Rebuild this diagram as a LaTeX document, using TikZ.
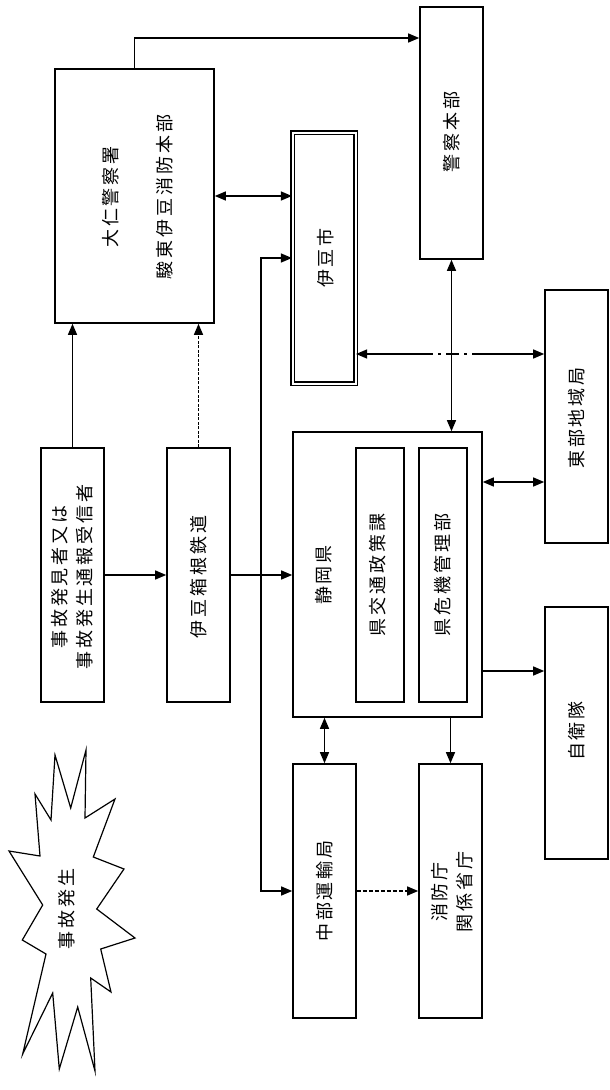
\documentclass[tikz,border=0pt]{standalone}
\usepackage{fontspec}
\newfontfamily\jp[LetterSpace=16]{Noto Sans CJK JP}
\usetikzlibrary{arrows.meta,calc}
\begin{document}
\begin{tikzpicture}[x=1pt,y=-1pt,
  box/.style={draw, line width=1.6pt, inner sep=0pt, fill=white},
  txt/.style={rotate=90, align=center, inner sep=0pt, font=\jp\fontsize{18}{25}\selectfont},
  conn/.style={line width=1.3pt},
  arr/.style={conn, -{Triangle[length=11pt,width=9pt]}},
  biarr/.style={conn, {Triangle[length=11pt,width=9pt]}-{Triangle[length=11pt,width=9pt]}},
  rarr/.style={conn, {Triangle[length=11pt,width=9pt]}-},
  dashline/.style={dash pattern=on 4pt off 2pt},
  dashdotline/.style={conn, dash pattern=on 13pt off 5pt on 3pt off 5pt}
]
\useasboundingbox (0,0) rectangle (610,1090);

% boxes
\node[box, minimum width=159pt, minimum height=254pt] (dai) at (134.5,196) {};
\node[box, minimum width=63pt, minimum height=252pt] (kei) at (451.5,133) {};
\node[draw, line width=1.1pt, double, double distance=2pt, inner sep=0pt, minimum width=63pt, minimum height=251pt] (izu) at (324,258) {};
\node[box, minimum width=63pt, minimum height=253pt] (tobu) at (576.5,416.5) {};
\node[box, minimum width=63pt, minimum height=254pt] (hakken) at (72.5,575) {};
\node[box, minimum width=63pt, minimum height=254pt] (tetsu) at (198.5,575) {};
\node[box, minimum width=189pt, minimum height=285pt] (shizu) at (387.5,574.5) {};
\node[box, minimum width=48pt, minimum height=254pt] (kotsu) at (380,575) {};
\node[box, minimum width=48pt, minimum height=254pt] (kiki) at (443,575) {};
\node[box, minimum width=63pt, minimum height=252pt] (jiei) at (576.5,733) {};
\node[box, minimum width=63pt, minimum height=254pt] (chubu) at (324.5,891) {};
\node[box, minimum width=63pt, minimum height=254pt] (shobo) at (450.5,891) {};

% texts
\node[txt] (daiT) at (138,197) {大仁警察署\\[29pt]駿東伊豆消防本部};
\node[txt] (keiT) at (451.5,132) {警察本部};
\node[txt] (izuT) at (326,258) {伊豆市};
\node[txt] (tobuT) at (577,418) {東部地域局};
\node[txt] (hakkenT) at (72.5,577) {事故発見者又は\\事故発生通報受信者};
\node[txt] (tetsuT) at (199,577) {伊豆箱根鉄道};
\node[txt] (shizuT) at (324,575) {静岡県};
\node[txt] (kotsuT) at (378,575) {県交通政策課};
\node[txt] (kikiT) at (443,575) {県危機管理部};
\node[txt] (jieiT) at (577,731) {自衛隊};
\node[txt] (chubuT) at (325,891) {中部運輸局};
\node[txt] (shoboT) at (452,892) {消防庁\\関係省庁};

% star
\draw[line width=1.2pt, fill=white] (86,750) -- (70.7,808) -- (55,755) -- (51,820) -- (35,794) -- (40,856)
  -- (9,851) -- (42.7,905) -- (22.3,940) -- (46,954) -- (22.7,1054) -- (52.7,993) -- (59.3,1069)
  -- (77.7,1007) -- (95,1071) -- (90.7,978) -- (111,992) -- (100.7,949) -- (135,938) -- (96.7,909)
  -- (124,869) -- (93.3,857) -- (115,799) -- (85,818) -- cycle;
\node[txt] (starT) at (67,909) {事故発生};

% connectors
\coordinate (spine) at (261,575);
\coordinate (d1) at (420,354);
\coordinate (d2) at (483,354);

\draw[arr] (dai.north) |- (kei.west |- 0,38);
\draw[biarr] (dai.east) -- (dai.east -| izu.west);
\draw[biarr] (izu.west) -| (spine) |- (chubu.west);
\draw[biarr] (kei.south) -- (kei.south |- shizu.north);
\draw[rarr] (izu.east |- d1) -- (d1);
\draw[dashdotline] (d1) -- (d2);
\draw[arr] (d2) -- (tobu.west |- d2);
\draw[arr] (hakken.north) -- (hakken.north |- dai.south);
\draw[arr, dash pattern=on 3pt off 1.5pt] (tetsu.north) -- (tetsu.north |- dai.south);
\draw[arr] (hakken.east) -- (tetsu.west);
\draw[arr] (tetsu.east) -- (tetsu.east -| shizu.west);
\draw[biarr] (shizu.east |- 0,482) -- (tobu.west |- 0,482);
\draw[arr] (shizu.east |- 0,671) -- (jiei.west |- 0,671);
\draw[biarr] (chubu.north |- shizu.south) -- (chubu.north);
\draw[arr] (shobo.north |- shizu.south) -- (shobo.north);
\draw[arr, dashline] (chubu.east) -- (shobo.west);
\end{tikzpicture}
\end{document}
